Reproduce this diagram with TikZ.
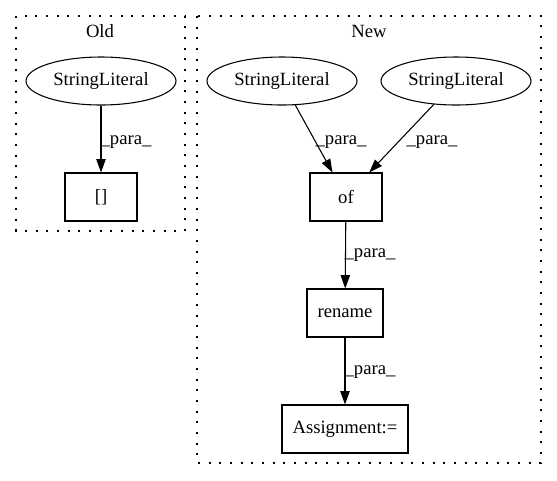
\documentclass[tikz,border=0pt]{standalone}
\usepackage{fontspec}
\setmainfont{Liberation Serif}
\usetikzlibrary{shapes.geometric,arrows.meta}
\begin{document}
\begin{tikzpicture}[x=0.75pt,y=-0.75pt,
  every node/.style={font=\fontsize{14pt}{16pt}\selectfont, inner sep=0pt},
  lit/.style={draw, ellipse, minimum width=112.5pt, minimum height=36pt, line width=0.8pt},
  op/.style={draw, rectangle, minimum width=54pt, minimum height=36pt, line width=0.8pt},
  cluster/.style={draw, line width=0.8pt, dash pattern=on 1.5pt off 6.5pt},
  edge/.style={-{Triangle[length=10pt,width=7pt]}, line width=0.8pt},
  elabel/.style={anchor=center}]
\useasboundingbox (0,0) rectangle (557,480);
% clusters
\draw[cluster] (16,16) rectangle (185,231);
\draw[cluster] (197,16) rectangle (541,463);
\node (oldt) at (100,31) {Old};
\node (newt) at (369,31) {New};
% nodes
\node[lit] (osl) at (101,81) {StringLiteral};
\node[op] (ob) at (101,197) {[]};
\node[lit] (nsl1) at (282,81) {StringLiteral};
\node[lit] (nsl2) at (456,81) {StringLiteral};
\node[op] (of) at (346,197) {of};
\node[op, minimum width=57pt] (rn) at (345,313) {rename};
\node[op, minimum width=94.5pt] (as) at (345,429) {Assignment:=};
% edges
\draw[edge] (osl) -- (ob);
\draw[edge] (nsl1) -- (of);
\draw[edge] (nsl2) -- (of);
\draw[edge] (of) -- (rn);
\draw[edge] (rn) -- (as);
% edge labels
\node[elabel] (l1) at (126,142) {\_para\_};
\node[elabel] (l2) at (341,142) {\_para\_};
\node[elabel] (l3) at (432,142) {\_para\_};
\node[elabel] (l4) at (370,255) {\_para\_};
\node[elabel] (l5) at (370,372) {\_para\_};
\end{tikzpicture}
\end{document}
